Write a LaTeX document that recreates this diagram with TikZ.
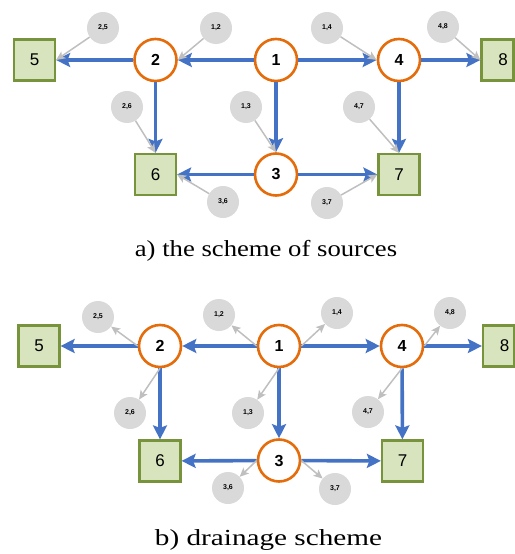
\documentclass[tikz,border=0pt]{standalone}
\usepackage{fontspec}
\setmainfont{Liberation Serif}
\setsansfont{Liberation Sans}
\usetikzlibrary{arrows.meta}
\definecolor{orng}{RGB}{228,108,10}
\definecolor{blu}{RGB}{68,114,196}
\definecolor{grnfill}{RGB}{215,228,189}
\definecolor{grnline}{RGB}{119,147,60}
\definecolor{gryfill}{RGB}{217,217,217}
\definecolor{gryline}{RGB}{191,191,191}
\tikzset{
  cnode/.style={circle, draw=orng, line width=2.6pt, fill=white, minimum size=42pt, inner sep=0pt, font=\sffamily\bfseries\fontsize{16}{16}\selectfont},
  sqnode/.style={rectangle, draw=grnline, line width=2.2pt, fill=grnfill, minimum width=41pt, minimum height=41pt, inner sep=0pt, font=\sffamily\fontsize{17}{17}\selectfont},
  gnode/.style={circle, fill=gryfill, minimum size=32pt, inner sep=0pt, font=\sffamily\bfseries\fontsize{7}{7}\selectfont},
  barrow/.style={draw=blu, line width=3.6pt, -{Stealth[length=14pt,width=14pt,inset=2.5pt]}},
  garrow/.style={draw=gryline, line width=1.5pt, -{Stealth[length=9pt,width=8pt,inset=2pt]}},
  caption/.style={font=\fontsize{23}{23}\selectfont}
}
\begin{document}
\begin{tikzpicture}[x=1pt,y=-1pt]
\useasboundingbox (0,0) rectangle (514,554);
% ---------- top diagram ----------
\node[gnode] (ta25) at (103,28) {2,5};
\node[gnode] (ta12) at (216,28) {1,2};
\node[gnode] (ta14) at (327,28) {1,4};
\node[gnode] (ta48) at (443,27) {4,8};
\node[gnode] (ta26) at (127,107) {2,6};
\node[gnode] (ta13) at (246,107) {1,3};
\node[gnode] (ta47) at (359,107) {4,7};
\node[gnode] (ta36) at (223,202) {3,6};
\node[gnode] (ta37) at (327,203) {3,7};
\node[sqnode] (t5) at (34.5,60) {5};
\node[cnode] (t2) at (155.5,60) {2};
\node[cnode] (t1) at (276,60) {1};
\node[cnode] (t4) at (399,60) {4};
\node[sqnode, minimum width=32pt] (t8) at (497.5,60) {\hspace*{11pt}8};
\node[sqnode] (t6) at (155.5,174.5) {6};
\node[cnode] (t3) at (276,174.5) {3};
\node[sqnode] (t7) at (399,174.5) {7};
\draw[barrow] (t1) -- (t2);
\draw[barrow] (t2) -- (t5);
\draw[barrow] (t1) -- (t4);
\draw[barrow] (t4) -- (t8);
\draw[barrow] (t2) -- (t6);
\draw[barrow] (t1) -- (t3);
\draw[barrow] (t4) -- (t7);
\draw[barrow] (t3) -- (t6);
\draw[barrow] (t3) -- (t7);
\draw[garrow] (ta25) -- (t5.east);
\draw[garrow] (ta12) -- (t2.east);
\draw[garrow] (ta14) -- (t4.west);
\draw[garrow] (ta48) -- (t8.west);
\draw[garrow] (ta26) -- (t6.north);
\draw[garrow] (ta13) -- (t3.north);
\draw[garrow] (ta47) -- (t7.north);
\draw[garrow] (ta36) -- (t6.east);
\draw[garrow] (ta37) -- (t7.west);
\node[caption] (capa) at (266,251) {\scalebox{1.16}[1]{a) the scheme of sources}};
% ---------- bottom diagram ----------
\node[gnode] (ba25) at (98,317) {2,5};
\node[gnode] (ba12) at (219,315) {1,2};
\node[gnode] (ba14) at (337,313) {1,4};
\node[gnode] (ba48) at (450,313) {4,8};
\node[gnode] (ba26) at (130,413) {2,6};
\node[gnode] (ba13) at (248,413) {1,3};
\node[gnode] (ba47) at (368,412) {4,7};
\node[gnode] (ba36) at (228,488) {3,6};
\node[gnode] (ba37) at (335,489) {3,7};
\node[sqnode] (b5) at (39,346) {5};
\node[cnode] (b2) at (160,346) {2};
\node[cnode] (b1) at (279,346) {1};
\node[cnode] (b4) at (402,346) {4};
\node[sqnode, minimum width=31pt] (b8) at (498.5,346) {\hspace*{12pt}8};
\node[sqnode] (b6) at (160,461) {6};
\node[cnode] (b3) at (279,460.5) {3};
\node[sqnode] (b7) at (402.5,461) {7};
\draw[barrow] (b1) -- (b2);
\draw[barrow] (b2) -- (b5);
\draw[barrow] (b1) -- (b4);
\draw[barrow] (b4) -- (b8);
\draw[barrow] (b2) -- (b6);
\draw[barrow] (b1) -- (b3);
\draw[barrow] (b4) -- (b7);
\draw[barrow] (b3) -- (b6);
\draw[barrow] (b3) -- (b7);
\draw[garrow] (b2.west) -- (ba25);
\draw[garrow] (b1.west) -- (ba12);
\draw[garrow] (b1.east) -- (ba14);
\draw[garrow] (b4.east) -- (ba48);
\draw[garrow] (b2.south) -- (ba26);
\draw[garrow] (b1.south) -- (ba13);
\draw[garrow] (b4.south) -- (ba47);
\draw[garrow] (b3.west) -- (ba36);
\draw[garrow] (b3.east) -- (ba37);
\node[caption] (capb) at (268.5,540) {\scalebox{1.27}[1]{b) drainage scheme}};
\end{tikzpicture}
\end{document}
